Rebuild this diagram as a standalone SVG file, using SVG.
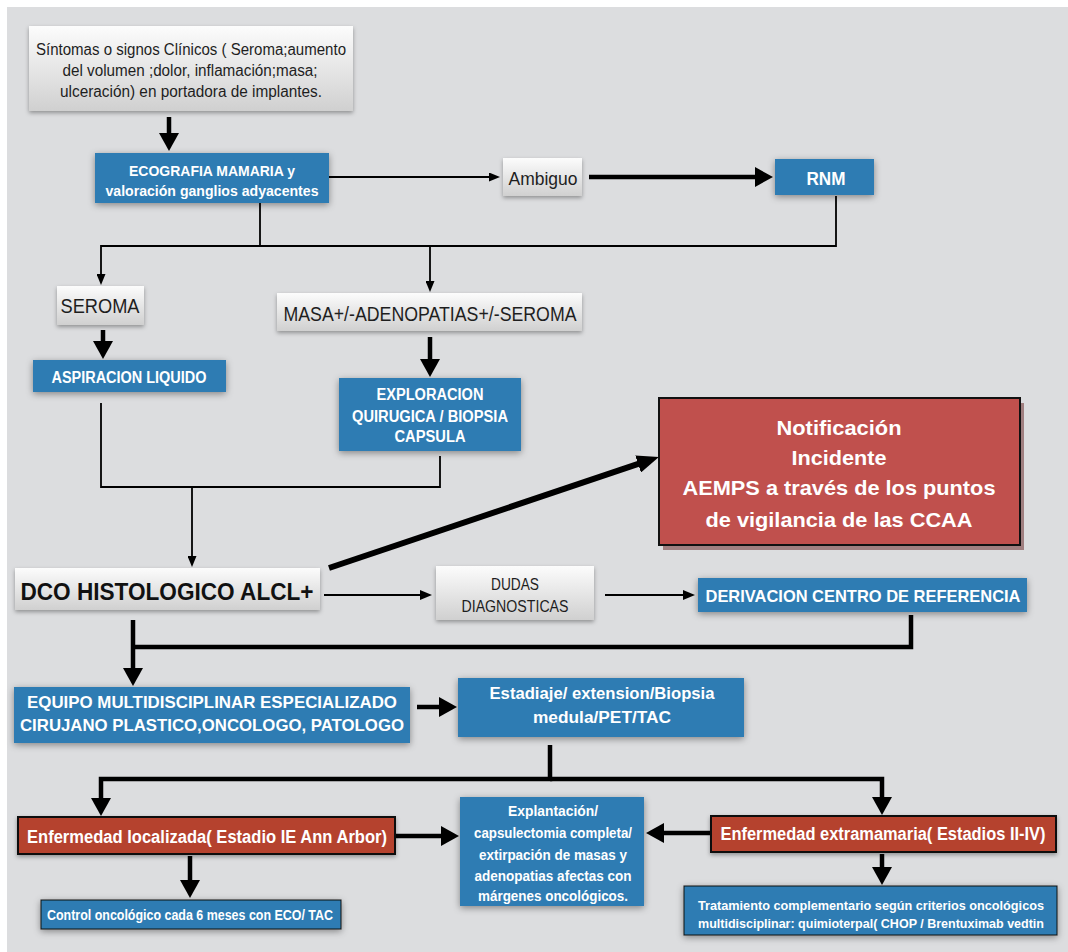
<svg xmlns="http://www.w3.org/2000/svg" width="1068" height="952" viewBox="0 0 1068 952">
<defs>
<style>
.bg{fill:#dcdddf}
.grey{fill:url(#gg);filter:url(#sh)}
.blue{fill:#2e7cb3;filter:url(#shb)}
.red{fill:#b5432f;stroke:#111;stroke-width:2;filter:url(#sh)}
.notif{fill:#c0504d;stroke:#111;stroke-width:2}
.notifsh{fill:#a07f80}
text{font-family:"Liberation Sans",Arial,sans-serif;text-anchor:middle}
.dk{fill:#1e1e1e}
.wt{fill:#fff;font-weight:bold}
.c{fill:none;stroke:#000;stroke-linejoin:miter}
.t1{stroke-width:1.8}
.t2{stroke-width:2.2}
.t4{stroke-width:4.5}
</style>
<linearGradient id="gg" x1="0" y1="0" x2="0" y2="1">
<stop offset="0" stop-color="#fcfcfc"/>
<stop offset="1" stop-color="#d0d0d0"/>
</linearGradient>
<filter id="sh" x="-10%" y="-20%" width="120%" height="150%">
<feDropShadow dx="0" dy="2" stdDeviation="2" flood-color="#000" flood-opacity="0.35"/>
</filter>
<filter id="shb" x="-15%" y="-30%" width="130%" height="170%">
<feDropShadow dx="0" dy="2" stdDeviation="3.5" flood-color="#000" flood-opacity="0.4"/>
</filter>
<marker id="ah" markerUnits="userSpaceOnUse" markerWidth="11" markerHeight="9" refX="1" refY="4.5" orient="auto">
<path d="M0,0 L11,4.5 L0,9 z" fill="#000"/>
</marker>
<marker id="ahm" markerUnits="userSpaceOnUse" markerWidth="12" markerHeight="10" refX="1" refY="5" orient="auto">
<path d="M0,0 L12,5 L0,10 z" fill="#000"/>
</marker>
<marker id="ahb" markerUnits="userSpaceOnUse" markerWidth="18" markerHeight="20" refX="1" refY="10" orient="auto">
<path d="M0,0 L18,10 L0,20 z" fill="#000"/>
</marker>
<marker id="ahn" markerUnits="userSpaceOnUse" markerWidth="22" markerHeight="18" refX="1" refY="9" orient="auto">
<path d="M0,0 L22,9 L0,18 z" fill="#000"/>
</marker>
</defs>

<rect x="0" y="0" width="1068" height="952" fill="#ffffff"/>
<rect class="bg" x="7" y="7" width="1061" height="945"/>

<g id="connectors">
<path class="c t4" d="M169,117 V134" marker-end="url(#ahb)"/>
<path class="c t1" d="M329,177 H490" marker-end="url(#ah)"/>
<path class="c t4" d="M589,177 H756" marker-end="url(#ahb)"/>
<path class="c t1" d="M260,203 V246"/>
<path class="c t1" d="M836,196 V246 H101 V275" marker-end="url(#ah)"/>
<path class="c t1" d="M430,246 V282" marker-end="url(#ah)"/>
<path class="c t4" d="M103,330 V342" marker-end="url(#ahb)"/>
<path class="c t4" d="M430,337 V360" marker-end="url(#ahb)"/>
<path class="c t1" d="M101,403 V487 H440 V456"/>
<path class="c t1" d="M192,487 V557" marker-end="url(#ah)"/>
<path class="c" style="stroke-width:6" d="M329,568 L639,463.7" marker-end="url(#ahn)"/>
<path class="c t2" d="M324,595 H421" marker-end="url(#ahm)"/>
<path class="c t2" d="M605,595 H684" marker-end="url(#ahm)"/>
<path class="c t4" d="M911,615 V647 H131"/>
<path class="c t4" d="M133,620 V669" marker-end="url(#ahb)"/>
<path class="c t4" d="M417,707 H440" marker-end="url(#ahb)"/>
<path class="c t4" d="M550,745 V779 H101 V799" marker-end="url(#ahb)"/>
<path class="c t4" d="M550,779 H882 V798" marker-end="url(#ahb)"/>
<path class="c t4" d="M395,836 H442" marker-end="url(#ahb)"/>
<path class="c t4" d="M712,833 H663" marker-end="url(#ahb)"/>
<path class="c t4" d="M190,856 V881" marker-end="url(#ahb)"/>
<path class="c t4" d="M882,854 V868" marker-end="url(#ahb)"/>
</g>

<g id="sintomas">
<rect class="grey" x="29" y="26" width="324" height="85"/>
<text class="dk" x="191" y="55" font-size="16" textLength="310" lengthAdjust="spacingAndGlyphs">Síntomas o signos Clínicos ( Seroma;aumento</text>
<text class="dk" x="190" y="76" font-size="16" textLength="255" lengthAdjust="spacingAndGlyphs">del volumen ;dolor, inflamación;masa;</text>
<text class="dk" x="191" y="97" font-size="16" textLength="262" lengthAdjust="spacingAndGlyphs">ulceración) en portadora de implantes.</text>
</g>

<g id="ecografia">
<rect class="blue" x="95" y="153" width="234" height="50"/>
<text class="wt" x="212" y="176" font-size="15" textLength="166" lengthAdjust="spacingAndGlyphs">ECOGRAFIA MAMARIA y</text>
<text class="wt" x="212" y="196" font-size="15" textLength="213" lengthAdjust="spacingAndGlyphs">valoración ganglios adyacentes</text>
</g>

<g id="ambiguo">
<rect class="grey" x="503" y="158" width="79" height="38"/>
<text class="dk" x="543" y="185" font-size="19" textLength="69" lengthAdjust="spacingAndGlyphs">Ambiguo</text>
</g>

<g id="rnm">
<rect class="blue" x="775" y="159" width="99" height="36"/>
<text class="wt" x="826" y="185" font-size="18" textLength="39" lengthAdjust="spacingAndGlyphs">RNM</text>
</g>

<g id="seroma">
<rect class="grey" x="57" y="286" width="87" height="39"/>
<text class="dk" x="100" y="313" font-size="20" textLength="79" lengthAdjust="spacingAndGlyphs">SEROMA</text>
</g>

<g id="masa">
<rect class="grey" x="277" y="293" width="305" height="38"/>
<text class="dk" x="430" y="321" font-size="20" textLength="293" lengthAdjust="spacingAndGlyphs">MASA+/-ADENOPATIAS+/-SEROMA</text>
</g>

<g id="aspiracion">
<rect class="blue" x="33" y="360" width="193" height="32"/>
<text class="wt" x="129" y="383" font-size="16" textLength="155" lengthAdjust="spacingAndGlyphs">ASPIRACION LIQUIDO</text>
</g>

<g id="exploracion">
<rect class="blue" x="339" y="378" width="182" height="73"/>
<text class="wt" x="430" y="400" font-size="16" textLength="107" lengthAdjust="spacingAndGlyphs">EXPLORACION</text>
<text class="wt" x="430" y="422" font-size="16" textLength="156" lengthAdjust="spacingAndGlyphs">QUIRUGICA / BIOPSIA</text>
<text class="wt" x="430" y="442" font-size="16" textLength="71" lengthAdjust="spacingAndGlyphs">CAPSULA</text>
</g>

<g id="notificacion">
<rect class="notifsh" x="663" y="403" width="361" height="147"/>
<rect class="notif" x="659" y="398" width="361" height="147"/>
<text class="wt" x="839" y="435" font-size="21" textLength="125" lengthAdjust="spacingAndGlyphs">Notificación</text>
<text class="wt" x="839" y="465" font-size="21" textLength="95" lengthAdjust="spacingAndGlyphs">Incidente</text>
<text class="wt" x="839" y="495" font-size="21" textLength="313" lengthAdjust="spacingAndGlyphs">AEMPS a través de los puntos</text>
<text class="wt" x="839" y="527" font-size="21" textLength="267" lengthAdjust="spacingAndGlyphs">de vigilancia de las CCAA</text>
</g>

<g id="dco">
<rect class="grey" x="15" y="568" width="305" height="42"/>
<text x="167" y="600" font-size="24" font-weight="bold" fill="#111" textLength="293" lengthAdjust="spacingAndGlyphs">DCO HISTOLOGICO ALCL+</text>
</g>

<g id="dudas">
<rect class="grey" x="436" y="566" width="158" height="54"/>
<text class="dk" x="515" y="590" font-size="16" textLength="48" lengthAdjust="spacingAndGlyphs">DUDAS</text>
<text class="dk" x="515" y="612" font-size="16" textLength="107" lengthAdjust="spacingAndGlyphs">DIAGNOSTICAS</text>
</g>

<g id="derivacion">
<rect class="blue" x="698" y="578" width="329" height="34"/>
<text class="wt" x="863" y="602" font-size="17" textLength="315" lengthAdjust="spacingAndGlyphs">DERIVACION CENTRO DE REFERENCIA</text>
</g>

<g id="equipo">
<rect class="blue" x="14" y="687" width="396" height="56"/>
<text class="wt" x="212" y="708" font-size="17" textLength="370" lengthAdjust="spacingAndGlyphs">EQUIPO MULTIDISCIPLINAR  ESPECIALIZADO</text>
<text class="wt" x="212" y="731" font-size="17" textLength="384" lengthAdjust="spacingAndGlyphs">CIRUJANO PLASTICO,ONCOLOGO, PATOLOGO</text>
</g>

<g id="estadiaje">
<rect class="blue" x="458" y="678" width="286" height="59"/>
<text class="wt" x="602" y="699" font-size="16" textLength="225" lengthAdjust="spacingAndGlyphs">Estadiaje/ extension/Biopsia</text>
<text class="wt" x="602" y="723" font-size="16" textLength="138" lengthAdjust="spacingAndGlyphs">medula/PET/TAC</text>
</g>

<g id="localizada">
<rect class="red" x="18" y="817" width="377" height="37"/>
<text class="wt" x="207" y="843" font-size="18" textLength="360" lengthAdjust="spacingAndGlyphs">Enfermedad localizada( Estadio IE Ann Arbor)</text>
</g>

<g id="explantacion">
<rect class="blue" x="460" y="797" width="184" height="109"/>
<text class="wt" x="553" y="816" font-size="14" textLength="90" lengthAdjust="spacingAndGlyphs">Explantación/</text>
<text class="wt" x="553" y="838" font-size="14" textLength="158" lengthAdjust="spacingAndGlyphs">capsulectomia completa/</text>
<text class="wt" x="553" y="860" font-size="14" textLength="148" lengthAdjust="spacingAndGlyphs">extirpación de masas y</text>
<text class="wt" x="553" y="881" font-size="14" textLength="157" lengthAdjust="spacingAndGlyphs">adenopatias afectas con</text>
<text class="wt" x="553" y="901" font-size="14" textLength="150" lengthAdjust="spacingAndGlyphs">márgenes oncológicos.</text>
</g>

<g id="extramamaria">
<rect class="red" x="711" y="816" width="345" height="36"/>
<text class="wt" x="883" y="840" font-size="17.5" textLength="325" lengthAdjust="spacingAndGlyphs">Enfermedad extramamaria( Estadios II-IV)</text>
</g>

<g id="control">
<rect class="blue" x="41" y="900" width="300" height="29" style="stroke:#111;stroke-width:1"/>
<text class="wt" x="190" y="920" font-size="14" textLength="286" lengthAdjust="spacingAndGlyphs">Control oncológico cada 6 meses con ECO/ TAC</text>
</g>

<g id="tratamiento">
<rect class="blue" x="684" y="886" width="373" height="49" style="stroke:#111;stroke-width:1"/>
<text class="wt" x="871" y="910" font-size="13" textLength="346" lengthAdjust="spacingAndGlyphs">Tratamiento complementario según criterios oncológicos</text>
<text class="wt" x="871" y="928" font-size="13" textLength="346" lengthAdjust="spacingAndGlyphs">multidisciplinar: quimioterpal( CHOP / Brentuximab vedtin</text>
</g>
</svg>
